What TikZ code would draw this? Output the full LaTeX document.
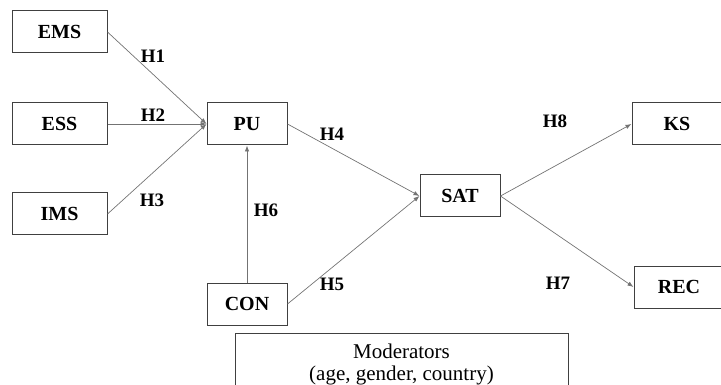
\documentclass[tikz,border=0pt]{standalone}
\usepackage{fontspec}
\setmainfont{Liberation Serif}
\usetikzlibrary{arrows.meta}

\begin{document}
\begin{tikzpicture}[x=1pt, y=-1pt, every node/.style={font=\fontsize{20}{24}\selectfont\bfseries},
	var/.style={draw=black!75, line width=1pt, minimum height=42pt, inner sep=0pt},
	hyp/.style={font=\fontsize{19}{22}\selectfont\bfseries},
	link/.style={draw=black!55, line width=0.7pt, -{Latex[length=6pt,width=4.5pt]}}]
	\useasboundingbox (0,0) rectangle (721,385);
	\clip (0,0) rectangle (721,385);
	% constructs
	\node[var, minimum width=95pt] (ems) at (59.5,32) {EMS};
	\node[var, minimum width=95pt] (ess) at (59.5,124) {ESS};
	\node[var, minimum width=95pt] (ims) at (59.5,214) {IMS};
	\node[var, minimum width=80pt] (pu) at (247,124) {PU};
	\node[var, minimum width=80pt] (con) at (247,304) {CON};
	\node[var, minimum width=80pt] (sat) at (460,196) {SAT};
	\node[var, minimum width=90pt] (ks) at (677,124) {KS};
	\node[var, minimum width=90pt] (rec) at (679,287) {REC};
	\node[draw=black!75, line width=1pt, minimum width=333pt, minimum height=62pt, align=center,
		font=\fontsize{21}{22}\selectfont] (mod) at (401.5,364) {Moderators\\(age, gender, country)};
	% paths
	\draw[link] (ems.east) -- (pu.west);
	\draw[link] (ess.east) -- (pu.west);
	\draw[link] (ims.east) -- (pu.west);
	\draw[link] (pu.east) -- (sat.west);
	\draw[link] (con.east) -- (sat.west);
	\draw[link] (con.north) -- (pu.south);
	\draw[link] (sat.east) -- (ks.west);
	\draw[link] (sat.east) -- (rec.west);
	% hypotheses
	\node[hyp] (h1) at (153,56) {H1};
	\node[hyp] (h2) at (153,115) {H2};
	\node[hyp] (h3) at (152,200) {H3};
	\node[hyp] (h4) at (332,134) {H4};
	\node[hyp] (h5) at (332,284) {H5};
	\node[hyp] (h6) at (266,210) {H6};
	\node[hyp] (h8) at (555,121) {H8};
	\node[hyp] (h7) at (558,283) {H7};
\end{tikzpicture}
\end{document}
